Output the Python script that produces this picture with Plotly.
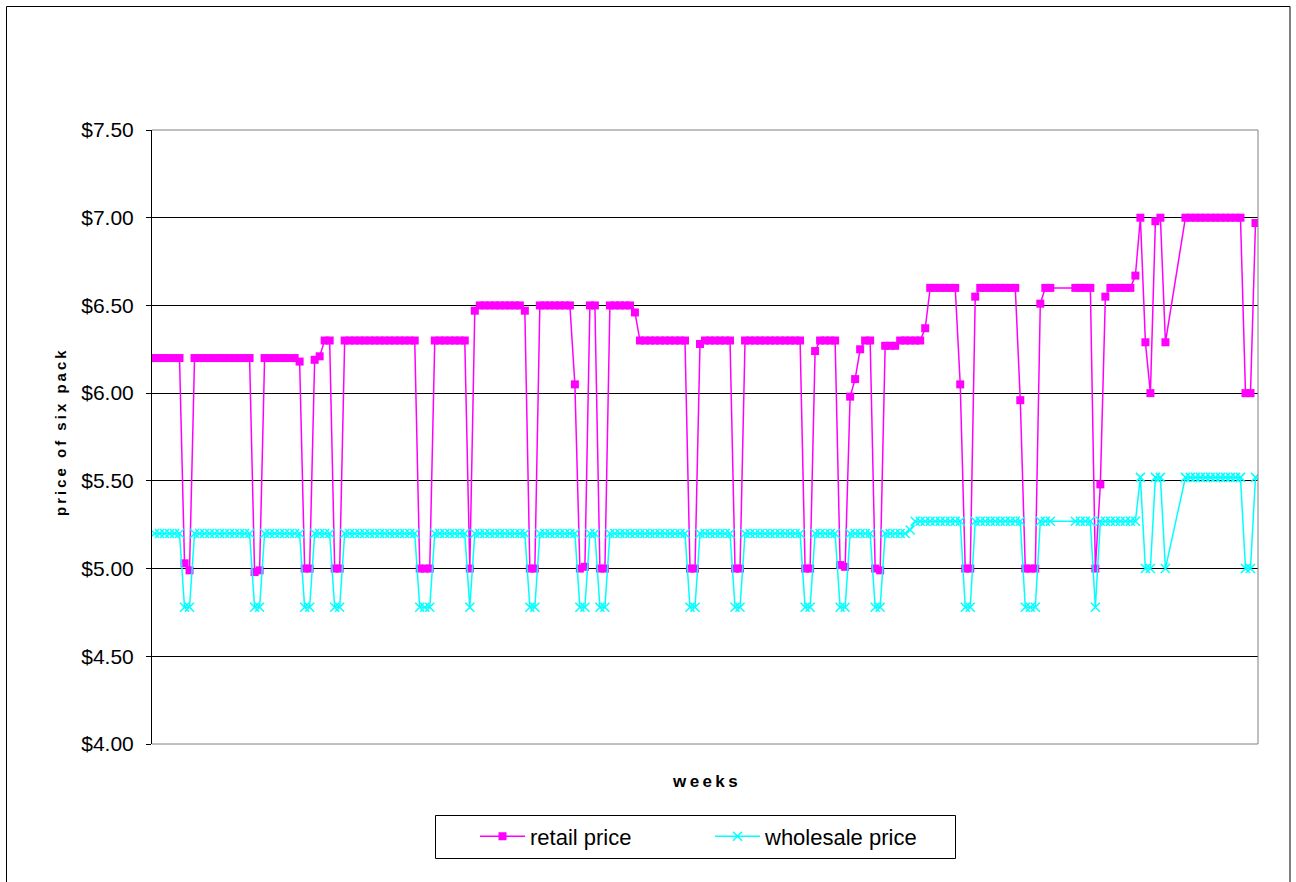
import plotly.graph_objects as go

# week numbers (category axis, no labels shown)
weeks = list(range(1, 222))

retail_price = [
    6.20, 6.20, 6.20, 6.20, 6.20, 6.20, 5.03, 4.99, 6.20, 6.20,
    6.20, 6.20, 6.20, 6.20, 6.20, 6.20, 6.20, 6.20, 6.20, 6.20,
    4.98, 4.99, 6.20, 6.20, 6.20, 6.20, 6.20, 6.20, 6.20, 6.18,
    5.00, 5.00, 6.19, 6.21, 6.30, 6.30, 5.00, 5.00, 6.30, 6.30,
    6.30, 6.30, 6.30, 6.30, 6.30, 6.30, 6.30, 6.30, 6.30, 6.30,
    6.30, 6.30, 6.30, 5.00, 5.00, 5.00, 6.30, 6.30, 6.30, 6.30,
    6.30, 6.30, 6.30, 5.00, 6.47, 6.50, 6.50, 6.50, 6.50, 6.50,
    6.50, 6.50, 6.50, 6.50, 6.47, 5.00, 5.00, 6.50, 6.50, 6.50,
    6.50, 6.50, 6.50, 6.50, 6.05, 5.00, 5.01, 6.50, 6.50, 5.00,
    5.00, 6.50, 6.50, 6.50, 6.50, 6.50, 6.46, 6.30, 6.30, 6.30,
    6.30, 6.30, 6.30, 6.30, 6.30, 6.30, 6.30, 5.00, 5.00, 6.28,
    6.30, 6.30, 6.30, 6.30, 6.30, 6.30, 5.00, 5.00, 6.30, 6.30,
    6.30, 6.30, 6.30, 6.30, 6.30, 6.30, 6.30, 6.30, 6.30, 6.30,
    5.00, 5.00, 6.24, 6.30, 6.30, 6.30, 6.30, 5.02, 5.01, 5.98,
    6.08, 6.25, 6.30, 6.30, 5.00, 4.99, 6.27, 6.27, 6.27, 6.30,
    6.30, 6.30, 6.30, 6.30, 6.37, 6.60, 6.60, 6.60, 6.60, 6.60,
    6.60, 6.05, 5.00, 5.00, 6.55, 6.60, 6.60, 6.60, 6.60, 6.60,
    6.60, 6.60, 6.60, 5.96, 5.00, 5.00, 5.00, 6.51, 6.60, 6.60,
    None, None, None, None, 6.60, 6.60, 6.60, 6.60, 5.00, 5.48,
    6.55, 6.60, 6.60, 6.60, 6.60, 6.60, 6.67, 7.00, 6.29, 6.00,
    6.98, 7.00, 6.29, None, None, None, 7.00, 7.00, 7.00, 7.00,
    7.00, 7.00, 7.00, 7.00, 7.00, 7.00, 7.00, 7.00, 6.00, 6.00,
    6.97,
]

wholesale_price = [
    5.20, 5.20, 5.20, 5.20, 5.20, 5.20, 4.78, 4.78, 5.20, 5.20,
    5.20, 5.20, 5.20, 5.20, 5.20, 5.20, 5.20, 5.20, 5.20, 5.20,
    4.78, 4.78, 5.20, 5.20, 5.20, 5.20, 5.20, 5.20, 5.20, 5.20,
    4.78, 4.78, 5.20, 5.20, 5.20, 5.20, 4.78, 4.78, 5.20, 5.20,
    5.20, 5.20, 5.20, 5.20, 5.20, 5.20, 5.20, 5.20, 5.20, 5.20,
    5.20, 5.20, 5.20, 4.78, 4.78, 4.78, 5.20, 5.20, 5.20, 5.20,
    5.20, 5.20, 5.20, 4.78, 5.20, 5.20, 5.20, 5.20, 5.20, 5.20,
    5.20, 5.20, 5.20, 5.20, 5.20, 4.78, 4.78, 5.20, 5.20, 5.20,
    5.20, 5.20, 5.20, 5.20, 5.20, 4.78, 4.78, 5.20, 5.20, 4.78,
    4.78, 5.20, 5.20, 5.20, 5.20, 5.20, 5.20, 5.20, 5.20, 5.20,
    5.20, 5.20, 5.20, 5.20, 5.20, 5.20, 5.20, 4.78, 4.78, 5.20,
    5.20, 5.20, 5.20, 5.20, 5.20, 5.20, 4.78, 4.78, 5.20, 5.20,
    5.20, 5.20, 5.20, 5.20, 5.20, 5.20, 5.20, 5.20, 5.20, 5.20,
    4.78, 4.78, 5.20, 5.20, 5.20, 5.20, 5.20, 4.78, 4.78, 5.20,
    5.20, 5.20, 5.20, 5.20, 4.78, 4.78, 5.20, 5.20, 5.20, 5.20,
    5.20, 5.22, 5.27, 5.27, 5.27, 5.27, 5.27, 5.27, 5.27, 5.27,
    5.27, 5.27, 4.78, 4.78, 5.27, 5.27, 5.27, 5.27, 5.27, 5.27,
    5.27, 5.27, 5.27, 5.27, 4.78, 4.78, 4.78, 5.27, 5.27, 5.27,
    None, None, None, None, 5.27, 5.27, 5.27, 5.27, 4.78, 5.27,
    5.27, 5.27, 5.27, 5.27, 5.27, 5.27, 5.27, 5.52, 5.00, 5.00,
    5.52, 5.52, 5.00, None, None, None, 5.52, 5.52, 5.52, 5.52,
    5.52, 5.52, 5.52, 5.52, 5.52, 5.52, 5.52, 5.52, 5.00, 5.00,
    5.52,
]

y_ticks = [4.00, 4.50, 5.00, 5.50, 6.00, 6.50, 7.00, 7.50]
series_names = ["retail price", "wholesale price"]

FONT = "Arial, 'Liberation Sans', sans-serif"
TS = "\u2009"  # thin space used to mimic the letter-spaced Excel titles


def spaced(s):
    return TS.join(list(s))


fig = go.Figure()
fig.add_trace(go.Scatter(
    x=weeks, y=retail_price, name=series_names[0], mode="lines+markers",
    connectgaps=True,
    line=dict(color="#FF00FF", width=1.5),
    marker=dict(symbol="square", size=8, color="#FF00FF"),
))
fig.add_trace(go.Scatter(
    x=weeks, y=wholesale_price, name=series_names[1], mode="lines+markers",
    connectgaps=True,
    line=dict(color="#00FFFF", width=1.5),
    marker=dict(symbol="x-thin", size=9, color="#00FFFF",
                line=dict(color="#00FFFF", width=1.5)),
))

L, R, T, B = 152, 1258, 130, 744
W, H = 1296, 882
pw, ph = R - L, B - T


def px(xpix):
    return (xpix - L) / pw


def py(ypix):
    return (B - ypix) / ph


fig.update_layout(
    width=W, height=H,
    margin=dict(l=L, r=W - R, t=T, b=H - B, pad=0),
    paper_bgcolor="white", plot_bgcolor="white",
    font=dict(family=FONT, color="black"),
    showlegend=True,
    legend=dict(
        orientation="h", x=px(475), xanchor="left", y=py(836.5),
        yanchor="middle", borderwidth=0, bgcolor="rgba(0,0,0,0)",
        font=dict(size=22, family=FONT, color="black"),
        itemwidth=45, entrywidth=175, entrywidthmode="pixels",
        traceorder="normal",
    ),
    xaxis=dict(
        type="linear", range=[0.5, 221.5], showticklabels=False,
        showgrid=False, zeroline=False, ticks="", showline=False,
        fixedrange=True,
    ),
    yaxis=dict(
        range=[4.0, 7.5], tickvals=y_ticks, tickformat="$.2f",
        showgrid=True, gridcolor="black", gridwidth=1,
        zeroline=False, showline=True, linecolor="black", linewidth=1,
        ticks="outside", ticklen=5, tickcolor="black", tickwidth=1,
        ticklabelstandoff=8,
        tickfont=dict(size=21, family=FONT, color="black"),
        fixedrange=True,
    ),
    shapes=[
        # plot area border (top, right, bottom) in gray
        dict(type="line", xref="paper", yref="paper", x0=0, x1=1, y0=1, y1=1,
             line=dict(color="#808080", width=1), layer="above"),
        dict(type="line", xref="paper", yref="paper", x0=1, x1=1, y0=0, y1=1,
             line=dict(color="#808080", width=1), layer="above"),
        dict(type="line", xref="paper", yref="paper", x0=0, x1=1, y0=0, y1=0,
             line=dict(color="#808080", width=1), layer="above"),
        # outer chart border
        dict(type="rect", xref="paper", yref="paper",
             x0=px(6.5), x1=px(1290), y0=py(900), y1=py(6.5),
             line=dict(color="black", width=1), layer="below"),
        # legend box
        dict(type="rect", xref="paper", yref="paper",
             x0=px(435.5), x1=px(955.5), y0=py(858.5), y1=py(815.5),
             line=dict(color="black", width=1), layer="below"),
    ],
    annotations=[
        dict(text="<b>" + spaced("weeks") + "</b>", xref="paper", yref="paper",
             x=0.5, y=py(781), xanchor="center", yanchor="middle",
             showarrow=False, font=dict(size=17, family=FONT, color="black")),
        dict(text="<b>" + spaced("price of six pack") + "</b>", xref="paper",
             yref="paper", x=px(60), y=py(433), xanchor="center",
             yanchor="middle", textangle=-90, showarrow=False,
             font=dict(size=15, family=FONT, color="black")),
    ],
)

fig.write_html(
    "out.html",
    config={"displayModeBar": False},
    post_script="document.body.style.margin='0';document.body.style.overflow='hidden';",
)
